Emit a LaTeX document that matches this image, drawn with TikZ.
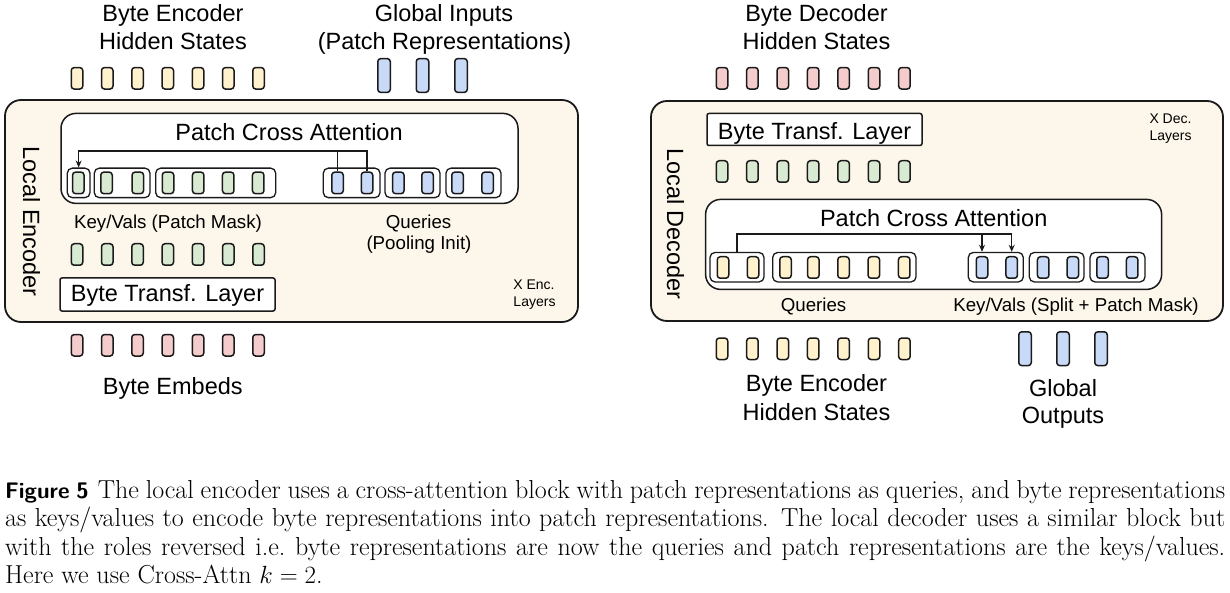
\documentclass[tikz,border=0pt]{standalone}
\usepackage{fontspec}
\newfontfamily\arialf{Liberation Sans}
\usetikzlibrary{arrows.meta}
\definecolor{tkY}{HTML}{FFF2CC}
\definecolor{tkG}{HTML}{D9EAD3}
\definecolor{tkB}{HTML}{C9DAF8}
\definecolor{tkP}{HTML}{F4CCCC}
\definecolor{boxbg}{HTML}{FDF6EA}
\definecolor{ink}{HTML}{1A1A1A}
\begin{document}
\begin{tikzpicture}[x=1pt,y=-1pt,
 tok/.style={draw=ink,line width=1.5pt,rounded corners=3pt,inner sep=0pt,minimum width=11.5pt,minimum height=21.5pt},
 tall/.style={tok,minimum width=12.5pt,minimum height=33.8pt},
 grp/.style={draw=ink,line width=1.3pt,rounded corners=5pt,inner sep=0pt,minimum height=29.5pt},
 outer/.style={draw=ink,line width=1.8pt,rounded corners=16pt,fill=boxbg,inner sep=0pt},
 pca/.style={draw=ink,line width=1.5pt,rounded corners=15pt,fill=white,inner sep=0pt},
 layerbox/.style={draw=ink,line width=1.5pt,rounded corners=2pt,fill=white,inner sep=0pt},
 big/.style={font=\arialf\fontsize{23.5}{28}\selectfont,inner sep=0pt,anchor=base},
 mid/.style={font=\arialf\fontsize{18.7}{22}\selectfont,inner sep=0pt,anchor=base},
 tiny/.style={font=\arialf\fontsize{14}{16}\selectfont,inner sep=0pt,anchor=base},
 capline/.style={font=\fontsize{26}{28.5}\selectfont,inner sep=0pt,anchor=base west},
 conn/.style={draw=ink,line width=1.4pt},
 tip/.style={-{Stealth[length=7pt,width=6pt]}}
]
\path[use as bounding box] (0,0) rectangle (1230,593);

% ================= LEFT: Local Encoder =================
\node[big] (lh1) at (173,21.7) {Byte Encoder};
\node[big] (lh2) at (173,50) {Hidden States};
\node[big] (gi1) at (444,21.7) {Global Inputs};
\node[big] (gi2) at (444.5,50) {(Patch Representations)};
\foreach \i in {0,...,6} \node[tok,fill=tkY] (et\i) at ({77+30.25*\i},78.3) {};
\node[tall,fill=tkB] (gin1) at (384,75.5) {};
\node[tall,fill=tkB] (gin2) at (422.5,75.5) {};
\node[tall,fill=tkB] (gin3) at (461,75.5) {};

\node[outer,minimum width=573pt,minimum height=222pt] (lenc) at (291.5,211) {};
\node[big,rotate=-90,anchor=center] (lencl) at (31.5,221.5) {Local Encoder};
\node[pca,minimum width=457pt,minimum height=90pt] (lpca) at (289.5,158.4) {};
\node[big] (lpcat) at (289,141) {Patch Cross Attention};

\node[grp,minimum width=22.7pt] (kg1) at (78.65,182.9) {};
\node[grp,minimum width=55.7pt] (kg2) at (122.15,182.9) {};
\node[grp,minimum width=120pt] (kg3) at (215.7,182.9) {};
\node[grp,minimum width=56.7pt] (qg1) at (351.65,182.9) {};
\node[grp,minimum width=55pt] (qg2) at (412.5,182.9) {};
\node[grp,minimum width=55pt] (qg3) at (473.5,182.9) {};
\foreach \x [count=\i] in {78.3,106.5,137.8,168,198.2,228.2,258.2}
  \node[tok,fill=tkG] (ek\i) at (\x,182.9) {};
\foreach \x [count=\i] in {337.5,367,398.3,427.5,457.5,487.5}
  \node[tok,fill=tkB] (eq\i) at (\x,182.9) {};
\draw[conn] (eq1.north) -- (eq1.north |- 0,151);
\draw[conn,tip] (eq2.north) |- (kg1.north |- 0,151) -- (kg1.north);

\node[mid] (kvl) at (168,228.5) {Key/Vals (Patch Mask)};
\node[mid] (ql1) at (418.6,228.5) {Queries};
\node[mid] (ql2) at (419,250) {(Pooling Init)};
\foreach \i in {0,...,6} \node[tok,fill=tkG] (eg\i) at ({77+30.25*\i},254.5) {};
\node[layerbox,minimum width=215pt,minimum height=33pt] (lbt) at (167.5,294.5) {};
\node[big] (lbtt) at (167.5,301.5) {Byte Transf. Layer};
\node[tiny] (xe1) at (534,290) {X Enc.};
\node[tiny] (xe2) at (534.5,306) {Layers};

\foreach \i in {0,...,6} \node[tok,fill=tkP] (ep\i) at ({77+30.25*\i},345.3) {};
\node[big] (bemb) at (172.8,394) {Byte Embeds};

% ================= RIGHT: Local Decoder =================
\node[big] (rh1) at (816.5,21.7) {Byte Decoder};
\node[big] (rh2) at (816.5,50) {Hidden States};
\foreach \i in {0,...,6} \node[tok,fill=tkP] (dp\i) at ({722+30.4*\i},78.3) {};

\node[outer,minimum width=572pt,minimum height=220pt] (ldec) at (937,211) {};
\node[big,rotate=-90,anchor=center] (ldecl) at (675.5,224) {Local Decoder};
\node[layerbox,minimum width=215pt,minimum height=32pt] (rbt) at (814.5,129.5) {};
\node[big] (rbtt) at (814.5,139.5) {Byte Transf. Layer};
\node[tiny] (xd1) at (1170.5,124) {X Dec.};
\node[tiny] (xd2) at (1170.5,140.5) {Layers};
\foreach \i in {0,...,6} \node[tok,fill=tkG] (dg\i) at ({722+30.4*\i},171.5) {};

\node[pca,minimum width=456pt,minimum height=90pt] (rpca) at (933.6,244.4) {};
\node[big] (rpcat) at (933.7,227) {Patch Cross Attention};
\node[grp,minimum width=54pt] (yg1) at (737,267.2) {};
\node[grp,minimum width=143.3pt] (yg2) at (844.35,267.2) {};
\node[grp,minimum width=55pt] (dkg1) at (995.8,267.2) {};
\node[grp,minimum width=54.7pt] (dkg2) at (1056.65,267.2) {};
\node[grp,minimum width=55pt] (dkg3) at (1117.5,267.2) {};
\foreach \x [count=\i] in {723,753,785.5,813.3,843.5,873.8,904.2}
  \node[tok,fill=tkY] (dq\i) at (\x,267.5) {};
\foreach \x [count=\i] in {982,1011.7,1043.2,1072.8,1102.5,1132.2}
  \node[tok,fill=tkB] (dk\i) at (\x,267.5) {};
\draw[conn,tip] (yg1.north) |- (dk2 |- 0,234) -- (dk2 |- dkg1.north);
\draw[conn,tip] (dk1 |- 0,234) -- (dk1 |- dkg1.north);
\node[mid] (rql) at (813.6,311) {Queries};
\node[mid] (rkvl) at (1076,311) {Key/Vals (Split + Patch Mask)};

\foreach \i in {0,...,6} \node[tok,fill=tkY] (dy\i) at ({722+30.4*\i},348.8) {};
\node[tall,fill=tkB] (go1) at (1025,348.7) {};
\node[tall,fill=tkB] (go2) at (1063,348.7) {};
\node[tall,fill=tkB] (go3) at (1101,348.7) {};
\node[big] (beh1) at (816.5,391.7) {Byte Encoder};
\node[big] (beh2) at (816.5,420) {Hidden States};
\node[big] (go4) at (1063,396) {Global};
\node[big] (go5) at (1063,423.5) {Outputs};

% ================= Caption =================
\node[capline] (cap1) at (5,498) {\makebox[1220pt][s]{{\sffamily\bfseries\fontsize{22.5}{28}\selectfont Figure\hspace{0.3em}5}\hspace{0.35em}The local encoder uses a cross-attention block with patch representations as queries, and byte representations}};
\node[capline] (cap2) at (5,526.5) {\makebox[1220pt][s]{as keys/values to encode byte representations into patch representations. The local decoder uses a similar block but}};
\node[capline] (cap3) at (5,555) {\makebox[1220pt][s]{with the roles reversed i.e.\ byte representations are now the queries and patch representations are the keys/values.}};
\node[capline] (cap4) at (5,583.5) {Here we use Cross-Attn $k=2$.};
\end{tikzpicture}
\end{document}
